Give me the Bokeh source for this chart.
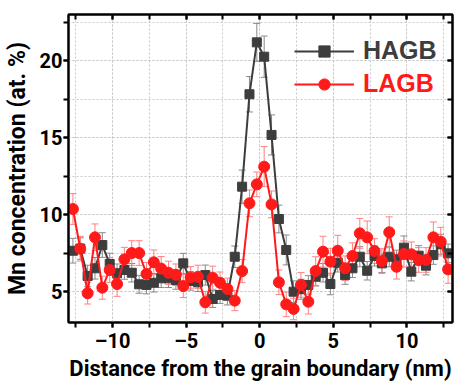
from bokeh.plotting import figure
from bokeh.models import (ColumnDataSource, Whisker, TeeHead, LinearAxis, Legend, LegendItem,
                          SingleIntervalTicker, Range1d)
from bokeh.embed import file_html
from bokeh.resources import INLINE

distance = [-12.7, -12.2, -11.7, -11.2, -10.7, -10.2, -9.7, -9.2, -8.7, -8.2,
            -7.7, -7.2, -6.7, -6.2, -5.7, -5.2, -4.7, -4.2, -3.7, -3.2,
            -2.7, -2.2, -1.7, -1.2, -0.7, -0.2, 0.3, 0.8, 1.3, 1.8,
            2.3, 2.8, 3.3, 3.8, 4.3, 4.8, 5.3, 5.8, 6.3, 6.8,
            7.3, 7.8, 8.3, 8.8, 9.3, 9.8, 10.3, 10.8, 11.3, 11.8,
            12.3, 12.8]

hagb = [7.66, 7.8, 6.02, 6.52, 8.03, 6.8, 6.2, 6.41, 6.23, 5.48,
        5.44, 5.58, 5.87, 5.87, 5.76, 6.84, 5.7, 5.61, 6.08, 4.53,
        4.79, 4.74, 7.27, 11.82, 17.82, 21.19, 20.26, 15.18, 9.72, 7.71,
        5.0, 5.16, 5.44, 5.97, 6.23, 5.5, 6.88, 6.08, 6.52, 7.27,
        6.36, 7.32, 6.84, 7.27, 7.1, 7.86, 6.3, 7.34, 6.69, 7.38,
        8.08, 7.49]
hagb_err = [0.8, 0.7, 0.7, 0.7, 0.8, 0.7, 0.6, 0.6, 0.6, 0.58,
            0.58, 0.6, 0.6, 0.6, 0.6, 0.65, 0.6, 0.6, 0.65, 0.55,
            0.55, 0.6, 0.7, 1.08, 1.15, 1.23, 1.34, 1.3, 0.9, 0.97,
            0.7, 0.65, 0.6, 0.6, 0.6, 0.7, 0.6, 0.6, 0.6, 0.65,
            0.6, 0.65, 0.6, 0.65, 0.6, 0.76, 0.6, 0.65, 0.6, 0.6,
            0.65, 0.6]

lagb = [10.37, 7.79, 4.9, 8.53, 5.26, 6.41, 5.5, 7.1, 7.51, 7.51,
        6.15, 6.91, 6.5, 6.23, 6.1, 5.37, 5.93, 5.97, 4.31, 5.91,
        5.58, 5.18, 4.42, 6.34, 10.74, 11.97, 13.12, 10.67, 5.61, 4.18,
        3.88, 5.44, 4.35, 6.34, 7.6, 6.95, 7.66, 6.52, 7.32, 8.79,
        8.53, 7.64, 6.99, 8.86, 6.62, 7.45, 7.43, 7.06, 7.06, 8.53,
        8.25, 6.45]
lagb_err = [1.0, 0.8, 0.7, 0.87, 0.75, 0.8, 0.8, 0.78, 0.8, 0.8,
            0.75, 0.8, 0.78, 0.75, 0.7, 0.75, 0.7, 0.75, 0.7, 0.75,
            0.7, 0.7, 0.65, 0.75, 0.87, 0.8, 1.3, 0.87, 0.8, 0.8,
            0.7, 0.8, 0.8, 0.93, 1.0, 0.87, 1.0, 0.8, 0.85, 0.97,
            1.06, 0.8, 0.8, 1.0, 0.8, 0.85, 0.8, 0.8, 0.8, 1.0,
            0.93, 0.9]

series_names = ["HAGB", "LAGB"]
dark = "#3d3d3d"
red = "#ff1a1a"

src_h = ColumnDataSource(dict(x=distance, y=hagb,
                              lo=[v - e for v, e in zip(hagb, hagb_err)],
                              hi=[v + e for v, e in zip(hagb, hagb_err)]))
src_l = ColumnDataSource(dict(x=distance, y=lagb,
                              lo=[v - e for v, e in zip(lagb, lagb_err)],
                              hi=[v + e for v, e in zip(lagb, lagb_err)]))

p = figure(width=458, height=383, output_backend="svg", toolbar_location=None,
           x_range=Range1d(-13.0, 13.1), y_range=Range1d(3, 23),
           min_border_left=67, min_border_bottom=60, min_border_top=14, min_border_right=6)

p.outline_line_color = "black"
p.outline_line_width = 2
p.background_fill_color = "white"

font = "Roboto"
for ax in (p.xaxis[0], p.yaxis[0]):
    ax.axis_line_width = 2
    ax.major_tick_line_width = 2
    ax.minor_tick_line_width = 2
    ax.major_tick_out = 5
    ax.major_tick_in = 0
    ax.minor_tick_out = 5
    ax.minor_tick_in = 0
    ax.major_label_text_font = font
    ax.major_label_text_font_style = "bold"
    ax.major_label_text_font_size = "20px"
    ax.major_label_text_color = "black"
    ax.axis_label_text_font = font
    ax.axis_label_text_font_style = "bold"
    ax.axis_label_text_font_size = "22px"
    ax.axis_label_text_color = "black"

p.yaxis.axis_label_text_font_size = "23px"
p.xaxis.ticker = SingleIntervalTicker(interval=5, num_minor_ticks=2)
p.yaxis.ticker = SingleIntervalTicker(interval=5, num_minor_ticks=2)
p.xaxis.major_label_overrides = {-10: "\u201310", -5: "\u20135"}
p.xaxis.axis_label = "Distance from the grain boundary (nm)"
p.yaxis.axis_label = "Mn concentration (at. %)"
p.xaxis.axis_label_standoff = 0
p.yaxis.axis_label_standoff = 6
p.xaxis.major_label_standoff = 1
p.yaxis.major_label_standoff = 1

for g in (p.xgrid[0], p.ygrid[0]):
    g.grid_line_color = "#c8c8c8"
    g.grid_line_dash = "2 2"
    g.grid_line_width = 1
    g.minor_grid_line_color = "#c8c8c8"
    g.minor_grid_line_dash = "2 2"
    g.minor_grid_line_width = 1


def frame_axis():
    return LinearAxis(ticker=SingleIntervalTicker(interval=5, num_minor_ticks=2),
                      major_label_text_font_size="1px", major_label_text_color=None,
                      major_tick_in=5, major_tick_out=0,
                      minor_tick_in=5, minor_tick_out=0, axis_line_width=2,
                      major_tick_line_width=2, minor_tick_line_width=2,
                      major_label_standoff=0)


p.add_layout(frame_axis(), "above")
p.add_layout(frame_axis(), "right")

wh_h = Whisker(source=src_h, base="x", upper="hi", lower="lo",
               line_color="#8a8a8a", line_width=1,
               upper_head=TeeHead(size=7, line_color="#8a8a8a", line_width=1),
               lower_head=TeeHead(size=7, line_color="#8a8a8a", line_width=1))
wh_l = Whisker(source=src_l, base="x", upper="hi", lower="lo",
               line_color="#ff8080", line_width=1,
               upper_head=TeeHead(size=7, line_color="#ff8080", line_width=1),
               lower_head=TeeHead(size=7, line_color="#ff8080", line_width=1))
p.add_layout(wh_h)
p.add_layout(wh_l)

lh = p.line("x", "y", source=src_h, line_color=dark, line_width=2)
sh = p.scatter("x", "y", source=src_h, marker="square", size=9, fill_color=dark, line_color=dark)
ll = p.line("x", "y", source=src_l, line_color=red, line_width=2)
sl = p.scatter("x", "y", source=src_l, marker="circle", size=11, fill_color=red, line_color=red)

leg_h = Legend(items=[LegendItem(label=series_names[0], renderers=[lh, sh])],
               location=(226, 257), label_text_color=dark)
leg_l = Legend(items=[LegendItem(label=series_names[1], renderers=[ll, sl])],
               location=(226, 224), label_text_color=red)
for lg in (leg_h, leg_l):
    lg.border_line_color = None
    lg.background_fill_alpha = 0
    lg.label_text_font = "Liberation Sans"
    lg.label_text_font_style = "bold"
    lg.label_text_font_size = "25px"
    lg.glyph_width = 60
    lg.glyph_height = 28
    lg.label_standoff = 9
    lg.padding = 0
    lg.margin = 0
    p.add_layout(lg)

open("out.html", "w").write(file_html(p, INLINE))
